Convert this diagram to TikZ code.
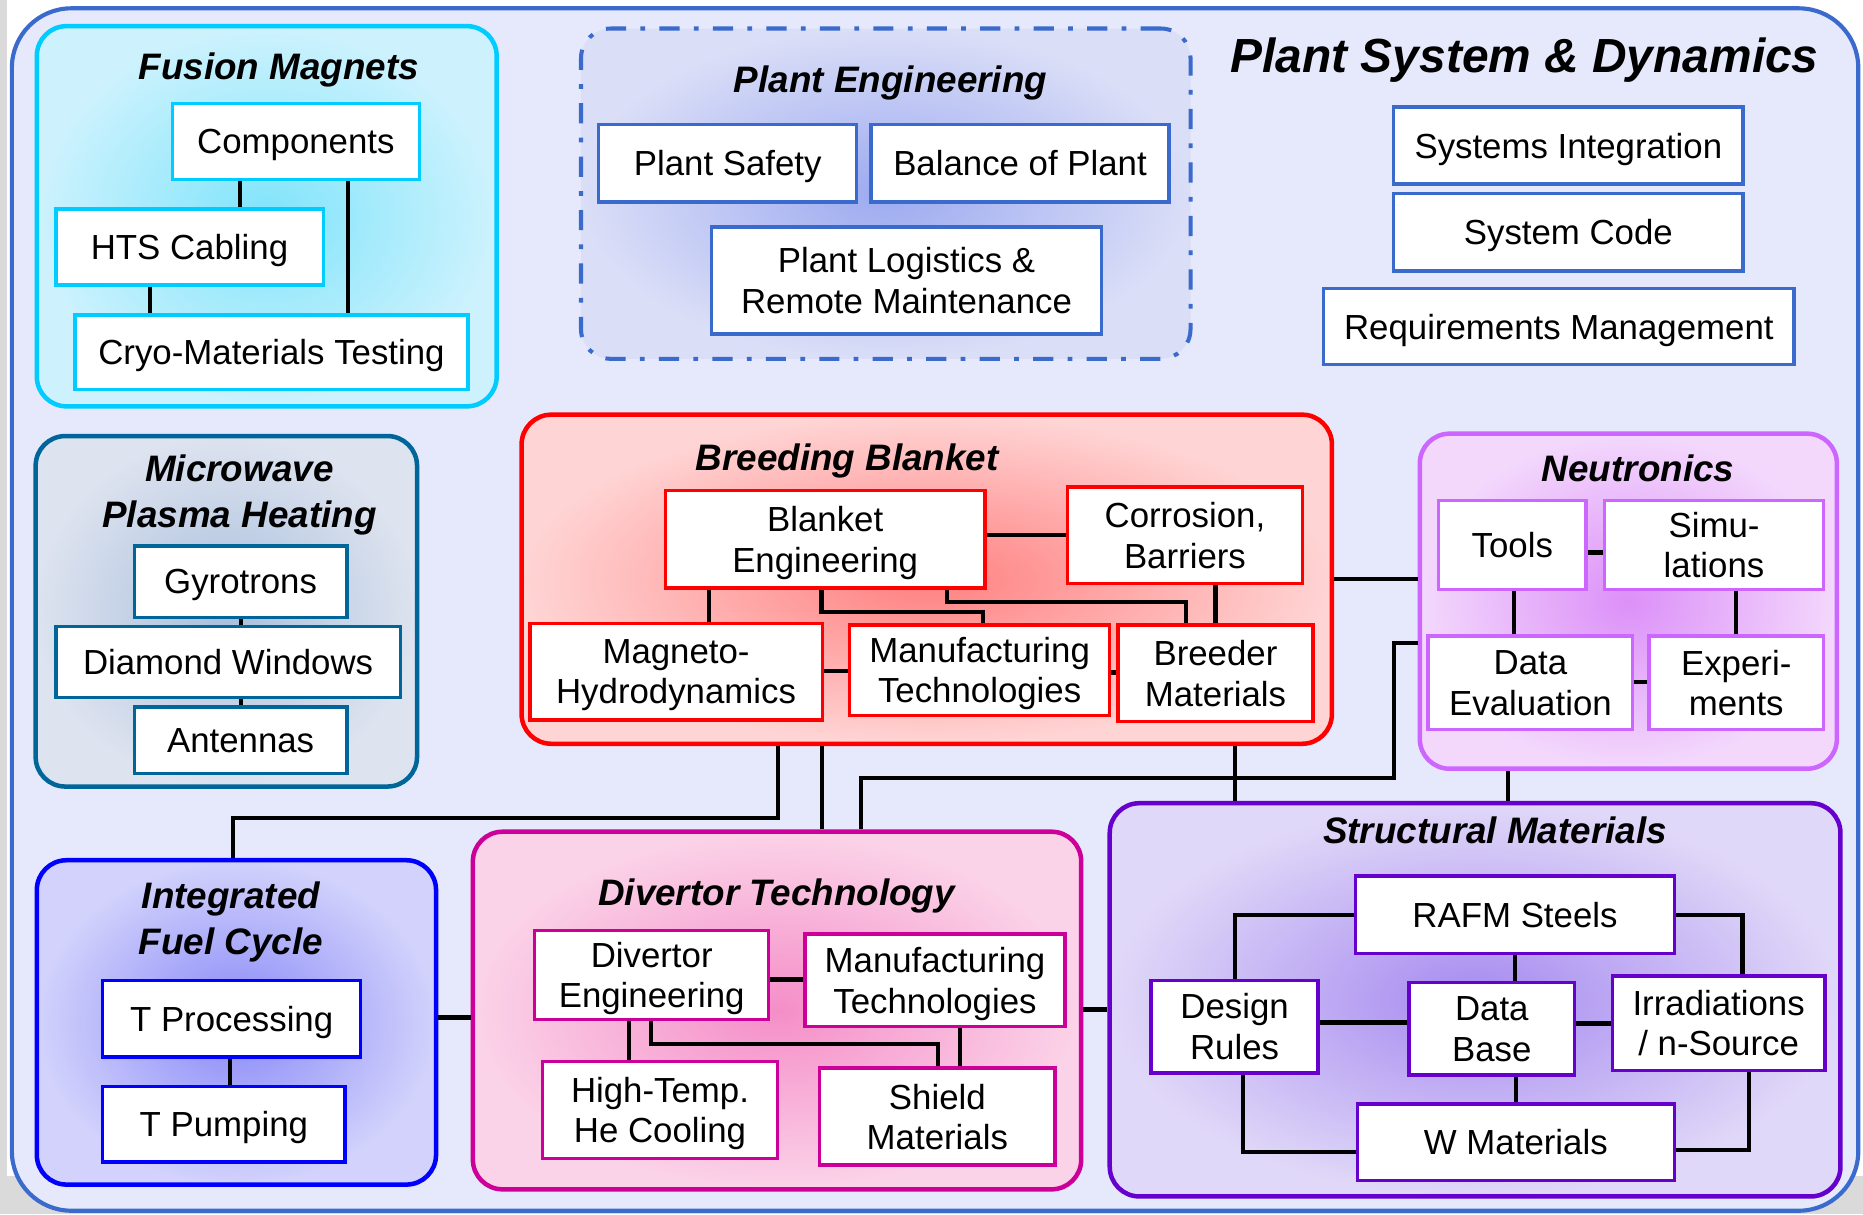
\documentclass[tikz,border=0pt]{standalone}
\usepackage{fontspec}
\setmainfont{Liberation Sans}
\definecolor{frameblue}{HTML}{3A6ACC}
\definecolor{framefill}{HTML}{E6E9FB}
\definecolor{bggray}{HTML}{DADADA}
\definecolor{cyanline}{HTML}{00CCFF}
\definecolor{mwline}{HTML}{006699}
\definecolor{neline}{HTML}{CC66FF}
\definecolor{fcline}{HTML}{0000FF}
\definecolor{dtline}{HTML}{CC0099}
\definecolor{smline}{HTML}{6600CC}
\definecolor{fmin}{HTML}{80E4FB}\definecolor{fmout}{HTML}{CDF2FD}
\definecolor{pein}{HTML}{9CAAF0}\definecolor{peout}{HTML}{DADEF7}
\definecolor{mwin}{HTML}{A9BFDD}\definecolor{mwout}{HTML}{DDE3EF}
\definecolor{bbin}{HTML}{FF8080}\definecolor{bbout}{HTML}{FFD4D4}
\definecolor{nein}{HTML}{DC90F8}\definecolor{neout}{HTML}{F3D8FC}
\definecolor{fcin}{HTML}{8888F8}\definecolor{fcout}{HTML}{D2D2FC}
\definecolor{dtin}{HTML}{F58EC8}\definecolor{dtout}{HTML}{FBD3E8}
\definecolor{smin}{HTML}{A68AF0}\definecolor{smout}{HTML}{E0D8F8}
\begin{document}
\begin{tikzpicture}[x=1pt, y=-1pt,
	sz/.style 2 args={minimum width=#1pt, minimum height=#2pt},
	box/.style={draw, fill=white, line width=2.8pt, inner sep=0pt, text depth=0pt, align=center, font=\fontsize{29.3}{34}\selectfont},
	fmbox/.style={box, draw=cyanline}, pebox/.style={box, draw=frameblue},
	mwbox/.style={box, draw=mwline}, bbbox/.style={box, draw=red},
	nebox/.style={box, draw=neline}, fcbox/.style={box, draw=fcline},
	dtbox/.style={box, draw=dtline}, smbox/.style={box, draw=smline},
	grp/.style={draw, line width=3.8pt, rounded corners=25pt, inner sep=0pt},
	ttl/.style={anchor=base, align=center, font=\fontsize{31}{38.5}\selectfont\bfseries\itshape},
	link/.style={line width=3.5pt}]

	\useasboundingbox (0,0) rectangle (1568,1022);
	\fill[white] (0,0) rectangle (1568,1022);
	\fill[bggray] (0,0) rectangle (6,1022);
	\fill[bggray] (0,990) rectangle (1568,1022);
	\draw[frameblue, fill=framefill, line width=3.5pt, rounded corners=50pt] (10,7) rectangle (1564,1019);

	\node[grp, draw=cyanline, inner color=fmin, outer color=fmout, sz={387}{320}] (fm) at (224.5,182) {};
	\node[grp, draw=frameblue, line width=3.4pt, dash pattern=on 17pt off 12pt on 4pt off 12pt, inner color=pein, outer color=peout, sz={513}{278}] (pe) at (745.5,163) {};
	\node[grp, draw=mwline, inner color=mwin, outer color=mwout, sz={321}{295}] (mw) at (190.5,514.5) {};
	\node[grp, draw=red, inner color=bbin, outer color=bbout, sz={682}{277}] (bb) at (780,487.5) {};
	\node[grp, draw=neline, inner color=nein, outer color=neout, sz={351}{282}] (ne) at (1370.5,506) {};
	\node[grp, draw=fcline, inner color=fcin, outer color=fcout, sz={336}{273}] (fc) at (199,860.5) {};
	\node[grp, draw=dtline, inner color=dtin, outer color=dtout, sz={512}{301}] (dt) at (654,850.5) {};
	\node[grp, draw=smline, inner color=smin, outer color=smout, sz={615}{331}] (sm) at (1241.5,841.5) {};

	\node[ttl] (fmt) at (234.7,67.3) {Fusion Magnets};
	\node[ttl] (pet) at (749.5,78) {Plant Engineering};
	\node[ttl, font=\fontsize{40.3}{48}\selectfont\bfseries\itshape] (psdt) at (1283.2,61.2) {Plant System \& Dynamics};
	\node[ttl] (mwt) at (201.5,443.9) {Microwave\\Plasma Heating};
	\node[ttl] (bbt) at (713,396.2) {Breeding Blanket};
	\node[ttl] (net) at (1378.7,405.4) {Neutronics};
	\node[ttl] (fct) at (194.4,803) {Integrated\\Fuel Cycle};
	\node[ttl] (dtt) at (653.6,761.8) {Divertor Technology};
	\node[ttl] (smt) at (1258.3,709.9) {Structural Materials};

	\node[fmbox, sz={208}{64}] (comp) at (249,119) {Components};
	\node[fmbox, sz={225}{64}] (hts) at (159.5,208) {HTS Cabling};
	\node[fmbox, sz={331}{63}] (cryo) at (228.5,296.5) {Cryo-Materials Testing};

	\node[pebox, sz={217}{65}] (safe) at (612.5,137.5) {Plant Safety};
	\node[pebox, sz={251}{65}] (bop) at (858.5,137.5) {Balance of Plant};
	\node[pebox, sz={328}{90}] (logi) at (763,236) {Plant Logistics \&\\Remote Maintenance};

	\node[pebox, sz={294}{65}] (sysint) at (1320,122.5) {Systems Integration};
	\node[pebox, sz={294}{65}] (syscode) at (1320,195.5) {System Code};
	\node[pebox, sz={396}{64}] (req) at (1312,275) {Requirements Management};

	\node[mwbox, sz={179}{60}] (gyro) at (202.5,489.6) {Gyrotrons};
	\node[mwbox, sz={290}{59.5}] (diam) at (192,557.2) {Diamond Windows};
	\node[mwbox, sz={179}{56}] (ant) at (202.5,623) {Antennas};

	\node[bbbox, sz={269}{82}] (beng) at (694.5,454) {Blanket\\Engineering};
	\node[bbbox, sz={197.4}{81}] (corr) at (997.3,450.5) {Corrosion,\\Barriers};
	\node[bbbox, sz={246}{81.3}] (mhd) at (569,565.3) {Magneto-\\Hydrodynamics};
	\node[bbbox, sz={219}{76}] (bman) at (824.5,564) {Manufacturing\\Technologies};
	\node[bbbox, sz={164}{81.5}] (breed) at (1023,566.7) {Breeder\\Materials};

	\node[nebox, sz={124.3}{74.6}] (tools) at (1272.8,458.7) {Tools};
	\node[nebox, sz={184.4}{74.6}] (sim) at (1442.6,458.7) {Simu-\\lations};
	\node[nebox, sz={172.3}{78.6}] (deval) at (1288.1,574.7) {Data\\Evaluation};
	\node[nebox, sz={147}{78.6}] (exper) at (1461.3,574.7) {Experi-\\ments};

	\node[fcbox, sz={217.2}{64}] (tproc) at (195,857.5) {T Processing};
	\node[fcbox, sz={204}{63.2}] (tpump) at (188.4,946.3) {T Pumping};

	\node[dtbox, sz={197}{74.6}] (deng) at (548.5,820.7) {Divertor\\Engineering};
	\node[dtbox, sz={219}{78}] (dman) at (786.9,825) {Manufacturing\\Technologies};
	\node[dtbox, sz={197.8}{81.3}] (heco) at (555.5,934.3) {High-Temp.\\He Cooling};
	\node[dtbox, sz={198.2}{81.6}] (shld) at (788.9,939.8) {Shield\\Materials};

	\node[smbox, sz={268.3}{65.1}] (rafm) at (1275.1,769.9) {RAFM Steels};
	\node[smbox, sz={140.5}{78}] (drul) at (1039.1,864) {Design\\Rules};
	\node[smbox, sz={139.3}{77.7}] (dbase) at (1255.6,866) {Data\\Base};
	\node[smbox, sz={179}{79.2}] (irr) at (1446.5,861.1) {Irradiations\\/ n-Source};
	\node[smbox, sz={267}{64}] (wmat) at (1275.8,961.3) {W Materials};

	\draw[link] (comp.south -| 202,0) -- (hts.north -| 202,0);
	\draw[link] (comp.south -| 293,0) -- (cryo.north -| 293,0);
	\draw[link] (hts.south -| 126,0) -- (cryo.north -| 126,0);

	\draw[link] (gyro.south -| 202.6,0) -- (diam.north -| 202.6,0);
	\draw[link] (diam.south -| 202.6,0) -- (ant.north -| 202.6,0);

	\draw[link] (beng.east |- 0,450.3) -- (corr.west |- 0,450.3);
	\draw[link] (beng.south -| 596.5,0) -- (mhd.north -| 596.5,0);
	\draw[link] (beng.south -| 691.4,0) |- (827,515.4) -- (bman.north -| 827,0);
	\draw[link] (beng.south -| 797.3,0) |- (998,506.5) -- (breed.north -| 998,0);
	\draw[link] (corr.south -| 1023,0) -- (breed.north -| 1023,0);
	\draw[link] (mhd.east |- 0,564.5) -- (bman.west |- 0,564.5);
	\draw[link] (bman.east |- 0,566) -- (breed.west |- 0,566);

	\draw[link] (tools.east |- 0,465) -- (sim.west |- 0,465);
	\draw[link] (tools.south -| 1274.5,0) -- (deval.north -| 1274.5,0);
	\draw[link] (sim.south -| 1461,0) -- (exper.north -| 1461,0);
	\draw[link] (deval.east |- 0,573.8) -- (exper.west |- 0,573.8);

	\draw[link] (tproc.south -| 193.6,0) -- (tpump.north -| 193.6,0);

	\draw[link] (deng.east |- 0,824.4) -- (dman.west |- 0,824.4);
	\draw[link] (deng.south -| 529.2,0) -- (heco.north -| 529.2,0);
	\draw[link] (deng.south -| 547.8,0) |- (789.5,878.8) -- (shld.north -| 789.5,0);
	\draw[link] (dman.south -| 807.7,0) -- (shld.north -| 807.7,0);

	\draw[link] (rafm.west) -| (drul.north -| 1039.4,0);
	\draw[link] (rafm.east) -| (irr.north -| 1466.6,0);
	\draw[link] (rafm.south -| 1275,0) -- (dbase.north -| 1275,0);
	\draw[link] (drul.east |- 0,860.6) -- (dbase.west |- 0,860.6);
	\draw[link] (dbase.east |- 0,861.4) -- (irr.west |- 0,861.4);
	\draw[link] (dbase.south -| 1276,0) -- (wmat.north -| 1276,0);
	\draw[link] (drul.south -| 1046,0) |- (wmat.west |- 0,969.4);
	\draw[link] (irr.south -| 1472,0) |- (wmat.east |- 0,968);

	\draw[link] (bb.east |- 0,487.6) -- (ne.west |- 0,487.6);
	\draw[link] (ne.west |- 0,541) -| (1173.5,655) -| (dt.north -| 724.8,0);
	\draw[link] (bb.south -| 654.5,0) |- (196.4,688.8) -- (fc.north -| 196.4,0);
	\draw[link] (bb.south -| 691.6,0) -- (dt.north -| 691.6,0);
	\draw[link] (bb.south -| 1039.4,0) -- (sm.north -| 1039.4,0);
	\draw[link] (ne.south -| 1269.2,0) -- (sm.north -| 1269.2,0);
	\draw[link] (fc.east |- 0,856.4) -- (dt.west |- 0,856.4);
	\draw[link] (dt.east |- 0,849.6) -- (sm.west |- 0,849.6);
\end{tikzpicture}
\end{document}
